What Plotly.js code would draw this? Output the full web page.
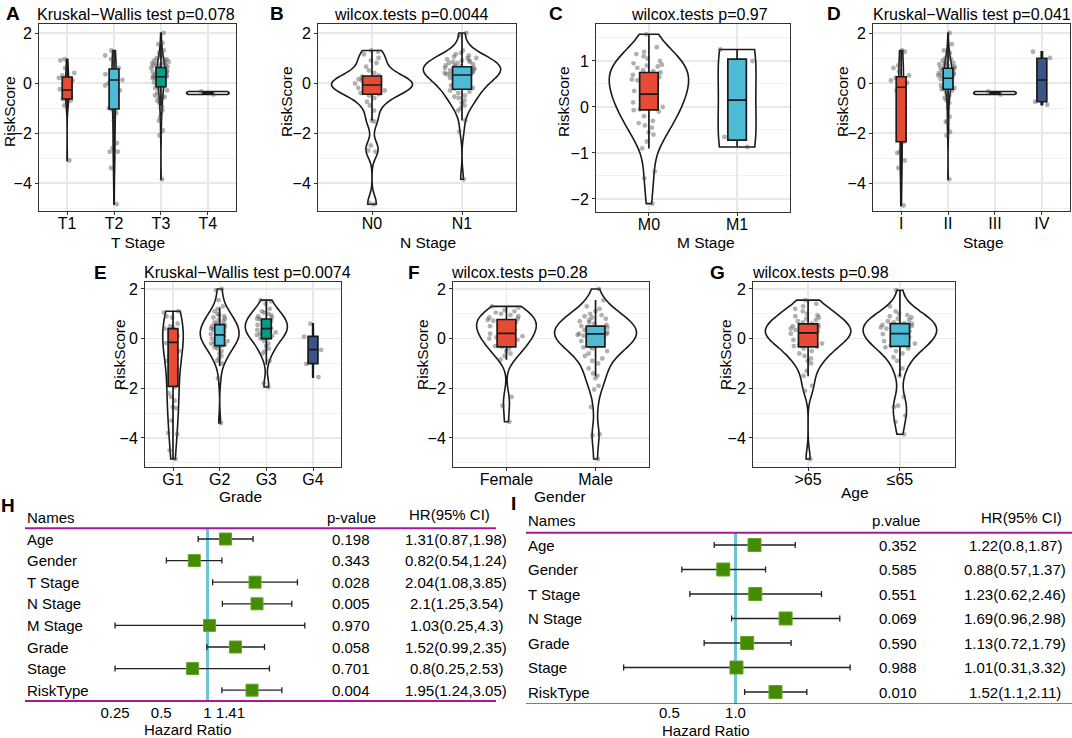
<!DOCTYPE html>
<html><head><meta charset="utf-8">
<script src="https://cdn.plot.ly/plotly-3.0.1.min.js"></script>
<style>html,body{margin:0;padding:0;background:#fff}#chart{width:1072px;height:738px}</style>
</head><body><div id="chart"></div>
<script>
// ---------------- DATA ----------------
// A: T Stage
const tCats = ['T1','T2','T3','T4'];
const tT1 = [0.95,0.9,0.6,0.4,0.3,0.2,0.1,-0.05,-0.15,-0.25,-0.3,-0.35,-0.45,-0.55,-0.6,-0.65,-0.7,-0.9,-3.1];
const tT2 = [1.3,1.2,1.1,0.95,0.8,0.6,0.5,0.5,0.35,0.2,0.12,0.0,-0.1,-0.3,-0.5,-0.8,-1.0,-1.05,-1.2,-1.5,-2.4,-2.6,-2.75,-2.75,-3.4,-4.85];
const tT3 = [2.0,1.6,1.55,1.3,1.2,1.1,1.05,1.0,0.95,0.9,0.9,0.85,0.8,0.8,0.75,0.75,0.7,0.7,0.65,0.65,0.6,0.6,0.55,0.5,0.5,0.45,0.45,0.4,0.4,0.35,0.35,0.3,0.3,0.28,0.25,0.2,0.2,0.15,0.1,0.1,0.05,0.02,0.0,-0.05,-0.1,-0.1,-0.15,-0.2,-0.25,-0.3,-0.4,-0.5,-0.55,-0.6,-0.6,-0.7,-0.8,-0.95,-1.0,-1.1,-1.35,-1.5,-1.9,-2.1,-3.85];
const tT4 = [-0.46,-0.34];
const tQ1 = [-0.64,-1.04,-0.15,-0.42], tMed = [-0.28,0.12,0.25,-0.40], tQ3 = [0.24,0.56,0.62,-0.38];
const tLow = [-1.0,-2.75,-0.9,-0.44], tHigh = [0.95,1.3,1.55,-0.36];

// B: N Stage
const nCats = ['N0','N1'];
const nN0 = [1.3,1.25,1.15,1.0,0.9,0.8,0.65,0.5,0.4,0.3,0.25,0.2,0.15,0.1,0.08,0.05,0.02,0.0,-0.02,-0.05,-0.08,-0.1,-0.12,-0.15,-0.2,-0.25,-0.3,-0.35,-0.4,-0.45,-0.5,-0.6,-0.75,-0.9,-1.1,-1.5,-1.55,-2.5,-2.7,-2.75,-4.8,-4.85];
const nN1 = [2.0,1.9,1.3,1.2,1.15,1.1,1.05,1.0,1.0,0.95,0.9,0.9,0.85,0.85,0.8,0.8,0.75,0.7,0.7,0.65,0.65,0.6,0.6,0.55,0.55,0.5,0.5,0.5,0.45,0.45,0.4,0.4,0.35,0.35,0.3,0.3,0.25,0.2,0.2,0.15,0.1,0.05,0.0,-0.05,-0.1,-0.15,-0.2,-0.22,-0.3,-0.35,-0.4,-0.5,-0.55,-0.6,-0.7,-0.8,-0.9,-1.0,-1.1,-1.5,-1.95,-3.85];
const nQ1 = [-0.45,-0.25], nMed = [-0.08,0.32], nQ3 = [0.28,0.65], nLow = [-1.5,-1.5], nHigh = [1.3,2.0];

// C: M Stage
const mCats = ['M0','M1'];
const mM0 = [1.58,1.3,1.2,1.15,1.1,1.05,1.0,0.95,0.92,0.9,0.88,0.85,0.8,0.78,0.75,0.7,0.65,0.6,0.58,0.55,0.5,0.45,0.4,0.35,0.3,0.27,0.25,0.2,0.15,0.1,0.05,0.0,-0.05,-0.07,-0.1,-0.2,-0.3,-0.35,-0.4,-0.45,-0.55,-0.6,-0.75,-0.9,-1.4,-1.55,-2.1];
const mM1 = [1.25,1.0,-0.65,-0.87];
const mQ1 = [-0.065,-0.72], mMed = [0.28,0.15], mQ3 = [0.75,1.04], mLow = [-0.9,-0.86], mHigh = [1.58,1.24];

// D: Stage
const sCats = ['I','II','III','IV'];
const sI = [1.3,1.25,1.0,0.7,0.6,0.45,0.3,0.2,0.1,0.0,-0.18,-0.25,-0.3,-0.35,-0.8,-1.5,-2.35,-2.75,-2.8,-3.1,-3.4,-4.9];
const sII = [2.0,1.55,1.3,1.2,1.1,1.0,0.95,0.9,0.85,0.8,0.8,0.75,0.7,0.7,0.65,0.6,0.6,0.55,0.5,0.5,0.45,0.45,0.4,0.4,0.35,0.3,0.3,0.25,0.25,0.2,0.2,0.15,0.1,0.1,0.05,0.0,-0.05,-0.1,-0.15,-0.2,-0.25,-0.25,-0.3,-0.4,-0.5,-0.6,-0.7,-0.8,-1.0,-1.35,-1.55,-1.55,-1.95,-2.1,-3.85];
const sIII = [-0.46,-0.34];
const sIV = [1.25,1.0,-0.75,-0.87];
const sQ1 = [-2.35,-0.25,-0.42,-0.75], sMed = [-0.17,0.19,-0.40,0.12], sQ3 = [0.25,0.59,-0.38,0.99];
const sLow = [-4.9,-1.35,-0.44,-0.87], sHigh = [1.3,1.55,-0.36,1.25];

// E: Grade
const gCats = ['G1','G2','G3','G4'];
const gG1 = [1.1,1.05,0.9,0.85,0.6,0.5,0.45,0.4,0.3,0.2,0.1,0.0,-0.1,-0.18,-0.3,-0.5,-0.7,-0.9,-1.2,-1.5,-1.95,-2.2,-2.35,-2.5,-2.75,-2.8,-3.3,-3.8,-3.85,-4.5,-4.85];
const gG2 = [2.0,1.95,1.55,1.3,1.2,1.1,1.0,0.95,0.9,0.85,0.8,0.75,0.7,0.65,0.6,0.55,0.55,0.5,0.45,0.4,0.35,0.3,0.28,0.25,0.2,0.18,0.15,0.12,0.1,0.08,0.05,0.0,-0.05,-0.1,-0.15,-0.2,-0.25,-0.28,-0.3,-0.35,-0.4,-0.5,-0.6,-0.7,-0.8,-0.9,-1.0,-1.6,-3.4];
const gG3 = [1.55,1.5,1.4,1.2,1.1,1.05,1.0,0.95,0.9,0.85,0.8,0.78,0.75,0.7,0.65,0.6,0.55,0.5,0.45,0.42,0.4,0.38,0.35,0.3,0.25,0.2,0.15,0.1,0.05,0.02,0.0,-0.1,-0.2,-0.3,-0.4,-0.5,-0.6,-0.9,-1.8,-1.95];
const gG4 = [0.6,0.08,-0.45,-1.02,-1.55];
const gQ1 = [-1.92,-0.28,0.0,-1.01], gMed = [-0.15,0.15,0.40,-0.44], gQ3 = [0.40,0.56,0.79,0.09];
const gLow = [-4.85,-1.1,-1.05,-1.52], gHigh = [1.1,1.25,1.56,0.63];

// F: Gender
const fCats = ['Female','Male'];
const fFemale = [1.3,1.25,1.15,1.1,1.05,1.0,0.95,0.9,0.85,0.8,0.75,0.72,0.7,0.65,0.6,0.55,0.5,0.45,0.4,0.35,0.3,0.25,0.2,0.15,0.1,0.05,0.0,-0.05,-0.1,-0.2,-0.3,-0.33,-0.4,-0.5,-0.6,-0.7,-0.85,-2.35,-2.7,-3.35];
const fMale = [2.0,1.55,1.3,1.2,1.1,1.0,0.95,0.9,0.85,0.8,0.75,0.7,0.65,0.6,0.55,0.5,0.45,0.42,0.4,0.35,0.3,0.28,0.25,0.2,0.18,0.15,0.12,0.1,0.05,0.0,-0.05,-0.1,-0.15,-0.2,-0.25,-0.3,-0.32,-0.35,-0.4,-0.5,-0.6,-0.7,-0.8,-0.9,-1.0,-1.2,-1.4,-1.5,-1.6,-1.9,-2.05,-2.75,-3.85,-3.9,-4.85];
const fQ1 = [-0.33,-0.33], fMed = [0.21,0.19], fQ3 = [0.77,0.5], fLow = [-0.85,-1.52], fHigh = [1.29,1.56];

// G: Age
const aCats = ['>65','≤65'];
const aOld = [1.55,1.4,1.3,1.2,1.1,1.0,0.95,0.9,0.85,0.8,0.75,0.7,0.65,0.6,0.55,0.5,0.45,0.4,0.35,0.3,0.28,0.25,0.22,0.2,0.18,0.15,0.1,0.05,0.0,-0.05,-0.1,-0.2,-0.25,-0.3,-0.33,-0.4,-0.5,-0.6,-0.7,-0.8,-0.9,-1.0,-1.3,-1.5,-1.9,-2.1,-4.85];
const aYoung = [1.95,1.3,1.1,1.0,0.95,0.9,0.85,0.8,0.75,0.7,0.65,0.62,0.6,0.55,0.5,0.45,0.4,0.35,0.3,0.25,0.2,0.18,0.15,0.1,0.05,0.0,-0.05,-0.1,-0.15,-0.2,-0.28,-0.35,-0.4,-0.5,-0.6,-0.75,-0.9,-1.2,-1.5,-2.35,-2.7,-2.75,-3.1,-3.35,-3.85];
const aQ1 = [-0.33,-0.31], aMed = [0.23,0.2], aQ3 = [0.59,0.6], aLow = [-1.52,-1.52], aHigh = [1.56,1.96];

// H: univariate Cox
const hNames = ['Age','Gender','T Stage','N Stage','M Stage','Grade','Stage','RiskType'];
const hP = ['0.198','0.343','0.028','0.005','0.970','0.058','0.701','0.004'];
const hHR = [1.31,0.82,2.04,2.1,1.03,1.52,0.8,1.95];
const hLow = [0.87,0.54,1.08,1.25,0.25,0.99,0.25,1.24];
const hHigh = [1.98,1.24,3.85,3.54,4.3,2.35,2.53,3.05];
const hTicks = [0.25,0.5,1,1.41];
const hTickText = ['0.25','0.5','1','1.41'];

// I: multivariate Cox
const iNames = ['Age','Gender','T Stage','N Stage','Grade','Stage','RiskType'];
const iP = ['0.352','0.585','0.551','0.069','0.590','0.988','0.010'];
const iHR = [1.22,0.88,1.23,1.69,1.13,1.01,1.52];
const iLow = [0.8,0.57,0.62,0.96,0.72,0.31,1.1];
const iHigh = [1.87,1.37,2.46,2.98,1.79,3.32,2.11];
const iTicks = [0.5,1.0];
const iTickText = ['0.5','1.0'];

// ---------------- STYLE / LAYOUT ----------------
const W = 1072, H = 738;
const FONT = 'Liberation Sans, Arial, Helvetica, sans-serif';
const COLS = ['#E64B35','#4DBBD5','#00A087','#3C5488'];
const px = x => x / W, py = y => 1 - y / H;
const xd = (a, b) => [a / W, b / W];
const yd = (top, bot) => [1 - bot / H, 1 - top / H];

const traces = [];
const annotations = [];
const shapes = [];
const layout = {
  width: W, height: H, margin: {l:0, r:0, t:0, b:0, pad:0},
  paper_bgcolor: '#fff', plot_bgcolor: '#fff', showlegend: false,
  boxmode: 'overlay', violinmode: 'overlay', hovermode: false,
  font: {family: FONT, color: '#000'},
  annotations, shapes
};

function ann(text, x, y, size, extra) {
  annotations.push(Object.assign({
    text, x: px(x), y: py(y), xref: 'paper', yref: 'paper', showarrow: false,
    font: {size, color: '#000', family: FONT}, xanchor: 'center', yanchor: 'middle'
  }, extra || {}));
}

function violinPanel(idx, cats, groups, q1, med, q3, lo, hi, vw, bws, dom, yr, dt, mdt) {
  const s = idx === 1 ? '' : String(idx);
  const xa = 'x' + s, ya = 'y' + s;
  cats.forEach((c, i) => {
    const d = groups[i];
    const v = {
      type: 'violin', x: d.map(() => c), y: d, xaxis: xa, yaxis: ya,
      width: vw[i], scalemode: 'width', spanmode: 'hard', points: false,
      box: {visible: false}, meanline: {visible: false},
      line: {color: '#1a1a1a', width: 1.6}, fillcolor: '#ffffff', hoverinfo: 'skip'
    };
    if (bws[i]) v.bandwidth = bws[i];
    traces.push(v);
    traces.push({
      type: 'box', x: d.map(() => c), y: d, xaxis: xa, yaxis: ya,
      boxpoints: 'all', jitter: 1, pointpos: 0, width: 0.45, whiskerwidth: 0,
      fillcolor: 'rgba(0,0,0,0)', line: {width: 0, color: 'rgba(0,0,0,0)'},
      marker: {color: 'rgba(70,70,70,0.42)', size: 4.8}, hoverinfo: 'skip'
    });
    traces.push({
      type: 'box', x: [c], q1: [q1[i]], median: [med[i]], q3: [q3[i]],
      lowerfence: [lo[i]], upperfence: [hi[i]], xaxis: xa, yaxis: ya,
      width: 0.21, whiskerwidth: 0, boxpoints: false,
      fillcolor: COLS[i], line: {color: '#1a1a1a', width: 1.7}, hoverinfo: 'skip'
    });
  });
  const common = {
    showline: true, mirror: true, linecolor: '#333', linewidth: 1,
    ticks: 'outside', ticklen: 3, tickcolor: '#333', tickwidth: 1,
    tickfont: {size: 16, color: '#000', family: FONT},
    zeroline: false, fixedrange: true, showgrid: true, gridcolor: '#E8E8E8', gridwidth: 1.3
  };
  layout['xaxis' + s] = Object.assign({}, common, {
    domain: xd(dom[0], dom[1]), anchor: ya, type: 'category', ticklabelstandoff: -5,
    categoryorder: 'array', categoryarray: cats, range: [-0.6, cats.length - 0.4]
  });
  layout['yaxis' + s] = Object.assign({}, common, {
    domain: yd(dom[2], dom[3]), anchor: xa, range: yr, dtick: dt, tick0: 0,
    minor: {dtick: mdt, tick0: 0, showgrid: true, gridcolor: '#F0F0F0', gridwidth: 1, ticks: ''}
  });
}

violinPanel(1, tCats, [tT1,tT2,tT3,tT4], tQ1,tMed,tQ3,tLow,tHigh,
  [0.08,0.09,0.17,0.9], [0,0,0,0.12], [39,236,24,211], [-5.12,2.36], 2, 1);
violinPanel(2, nCats, [nN0,nN1], nQ1,nMed,nQ3,nLow,nHigh,
  [0.9,0.86], [0,0], [318,516,24,211], [-5.12,2.36], 2, 1);
violinPanel(3, mCats, [mM0,mM1], mQ1,mMed,mQ3,mLow,mHigh,
  [0.9,0.43], [0,0], [596,790,24,212], [-2.283,1.804], 1, 0.5);
violinPanel(4, sCats, [sI,sII,sIII,sIV], sQ1,sMed,sQ3,sLow,sHigh,
  [0.1,0.17,0.9,0.03], [0,0,0.12,0], [873,1070,24,211], [-5.12,2.36], 2, 1);
violinPanel(5, gCats, [gG1,gG2,gG3,gG4], gQ1,gMed,gQ3,gLow,gHigh,
  [0.44,0.83,0.9,0.02], [0,0,0,0], [145,341,282,467], [-5.17,2.28], 2, 1);
violinPanel(6, fCats, [fFemale,fMale], fQ1,fMed,fQ3,fLow,fHigh,
  [0.67,0.92], [0,0], [453,649,282,467], [-5.17,2.28], 2, 1);
violinPanel(7, aCats, [aOld,aYoung], aQ1,aMed,aQ3,aLow,aHigh,
  [0.93,0.8], [0,0], [753,955,282,467], [-5.17,2.28], 2, 1);

// panel titles, letters, axis titles
const TS = 16;
ann('Kruskal\u2212Wallis test p=0.078', 135.5, 15, TS);
ann('wilcox.tests p=0.0044', 411.5, 15, TS);
ann('wilcox.tests p=0.97', 699, 15, TS);
ann('Kruskal\u2212Wallis test p=0.041', 971.5, 15, TS);
ann('Kruskal\u2212Wallis test p=0.0074', 247, 272, TS);
ann('wilcox.tests p=0.28', 519.5, 272, TS);
ann('wilcox.tests p=0.98', 820, 272, TS);
const LB = {size: 19, color: '#000', family: FONT, weight: 'bold'};
[['A',13,13],['B',277,13],['C',556,13],['D',834,13],['E',100,272],['F',414,272],['G',717,272],['H',8,505],['I',513,503]]
  .forEach(([t,x,y]) => ann('<b>' + t + '</b>', x, y, 19, {font: LB}));
const AX = 15.5;
[['T Stage',137.5,242],['N Stage',428,242],['M Stage',706,242],['Stage',983,242],
 ['Grade',240,496],['Gender',560,496],['Age',855,492]].forEach(([t,x,y]) => ann(t, x, y, AX));
[[10,112],[287,102],[564,102],[843,102],[119,355],[422,355],[725,355]]
  .forEach(([x,y]) => ann('RiskScore', x, y, AX, {textangle: -90}));

// ---------------- FOREST PLOTS ----------------
const MAG = '#A8179F', CYAN = '#6EC5D8', GREEN = '#458B00';
function forest(idx, names, pv, hr, lo, hi, ticks, tickText, cfg) {
  const xa = 'x' + idx, ya = 'y' + idx;
  const rows = names.map((_, i) => i + 1);
  const n = names.length;
  traces.push({type: 'scatter', mode: 'lines', x: [1, 1], y: [0.5, n + 0.5], xaxis: xa, yaxis: ya,
    line: {color: CYAN, width: 3}, hoverinfo: 'skip'});
  if (cfg.axisSeg) traces.push({type: 'scatter', mode: 'lines', x: cfg.axisSeg, y: [n + 0.6, n + 0.6],
    xaxis: xa, yaxis: ya, line: {color: '#111', width: 1.6}, hoverinfo: 'skip'});
  traces.push({type: 'scatter', mode: 'markers', x: hr, y: rows, xaxis: xa, yaxis: ya,
    marker: {symbol: 'square', size: cfg.ms, color: GREEN, line: {color: '#5FA52A', width: 1}},
    error_x: {type: 'data', symmetric: false, array: hr.map((v, i) => hi[i] - v),
      arrayminus: hr.map((v, i) => v - lo[i]), color: '#222', thickness: 1.3, width: 3},
    hoverinfo: 'skip'});
  layout['xaxis' + idx] = {domain: xd(cfg.xdom[0], cfg.xdom[1]), anchor: ya, type: 'log',
    range: cfg.xr, tickvals: ticks, ticktext: tickText, showgrid: false, zeroline: false,
    showline: false, ticks: '', ticklabelstandoff: -2,
    tickfont: {size: 15, color: '#000', family: FONT}, fixedrange: true};
  layout['yaxis' + idx] = {domain: yd(cfg.ydom[0], cfg.ydom[1]), anchor: xa, range: cfg.yr,
    visible: false, fixedrange: true};
  [0.5, n + 0.5].forEach(yv => shapes.push({type: 'line', xref: 'paper', yref: ya,
    x0: px(cfg.lineX[0]), x1: px(cfg.lineX[1]), y0: yv, y1: yv, line: {color: MAG, width: 2}}));
  const F = {size: 15, color: '#000', family: FONT};
  const at = (text, x, y, xanchor) => annotations.push({text, x: px(x), y, xref: 'paper', yref: ya,
    showarrow: false, font: F, xanchor, yanchor: 'middle'});
  at('Names', cfg.nameX, 0, 'left');
  at(cfg.pHead, cfg.pHeadX, 0, 'center');
  at('HR(95% CI)', cfg.hrHeadX, -0.12, 'center');
  names.forEach((nm, i) => {
    at(nm, cfg.nameX, i + 1, 'left');
    at(pv[i], cfg.pX, i + 1, 'center');
    at(hr[i] + '(' + lo[i] + ',' + hi[i] + ')', cfg.hrX, i + 1, 'center');
  });
  ann('Hazard Ratio', cfg.hrTitle[0], cfg.hrTitle[1], 15);
}

forest(8, hNames, hP, hHR, hLow, hHigh, hTicks, hTickText, {
  xdom: [100, 320], xr: [-0.6999, 0.7324], ydom: [505, 704], yr: [8.639, -0.574],
  lineX: [25, 496], nameX: 25, pHead: 'p-value', pHeadX: 351, hrHeadX: 449.5,
  pX: 351, hrX: 456, ms: 12, hrTitle: [188, 729]
});
forest(9, iNames, iP, iHR, iLow, iHigh, iTicks, iTickText, {
  xdom: [600, 870], xr: [-0.6162, 0.6116], ydom: [505, 704], yr: [7.49, -0.633],
  lineX: [526, 1072], nameX: 526, pHead: 'p.value', pHeadX: 896, hrHeadX: 1021,
  pX: 898, hrX: 1015, ms: 13, hrTitle: [706, 730], axisSeg: [0.35, 1.0]
});

Plotly.newPlot('chart', traces, layout, {staticPlot: true, displayModeBar: false});
</script>
</body></html>
